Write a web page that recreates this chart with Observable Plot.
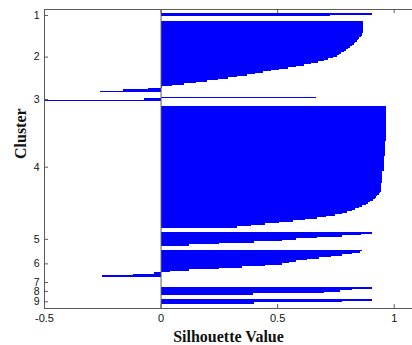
<!DOCTYPE html>
<html><head><meta charset="utf-8">
<script src="https://cdn.jsdelivr.net/npm/d3@7"></script>
<script src="https://cdn.jsdelivr.net/npm/@observablehq/plot@0.6"></script>
<style>body{margin:0;background:#fff;overflow:hidden}</style>
</head><body><div id="chart"></div>
<script>
// Cluster labels (y tick labels)
const clusterLabels = ["1", "2", "3", "4", "5", "6", "7", "8", "9"];
// Silhouette values per cluster, sorted as drawn (top to bottom)
const cluster1 = [0.905, 0.725];
const cluster2 = [0.87, 0.87, 0.87, 0.87, 0.87, 0.87, 0.87, 0.868, 0.865, 0.862, 0.858, 0.853,
  0.848, 0.842, 0.835, 0.828, 0.82, 0.812, 0.803, 0.795, 0.785, 0.775, 0.765, 0.755, 0.74, 0.72,
  0.70, 0.675, 0.645, 0.615, 0.58, 0.545, 0.51, 0.475, 0.44, 0.405, 0.37, 0.33, 0.29, 0.245, 0.20,
  0.15, 0.10, 0.05, 0.005, -0.055, -0.16, -0.26];
const cluster3 = [0.665, -0.07, -0.5];
const cluster4 = [0.965, 0.965, 0.965, 0.965, 0.965, 0.965, 0.965, 0.965, 0.965, 0.965, 0.965, 0.965,
  0.965, 0.965, 0.965, 0.965, 0.965, 0.965, 0.965, 0.965, 0.965, 0.965, 0.965, 0.965,
  0.962, 0.962, 0.962, 0.962, 0.962, 0.962, 0.962, 0.962, 0.962, 0.962,
  0.958, 0.958, 0.958, 0.958, 0.958, 0.958, 0.958, 0.958, 0.958, 0.958,
  0.952, 0.952, 0.952, 0.952, 0.952, 0.952, 0.952, 0.952,
  0.945, 0.945, 0.945, 0.945, 0.945, 0.945,
  0.94, 0.935, 0.93, 0.925, 0.92, 0.91, 0.90, 0.89, 0.88, 0.865, 0.85, 0.835, 0.82, 0.80, 0.78,
  0.75, 0.71, 0.67, 0.62, 0.57, 0.51, 0.45, 0.39, 0.33];
const cluster5 = [0.905, 0.86, 0.78, 0.67, 0.58, 0.52, 0.40, 0.25, 0.12];
const cluster6 = [0.865, 0.855, 0.82, 0.78, 0.73, 0.68, 0.63, 0.58, 0.55, 0.52, 0.45, 0.35, 0.25,
  0.12, 0.04, -0.03, -0.12, -0.25];
const cluster7 = [0.0];
const cluster8 = [0.905, 0.82, 0.77, 0.70, 0.395];
const cluster9 = [0.905, 0.78, 0.40];
// X axis ticks
const xTicks = [-0.5, 0, 0.5, 1];
const xTickLabels = ["-0.5", "0", "0.5", "1"];
const xTitle = "Silhouette Value";
const yTitle = "Cluster";

const clusters = [cluster1, cluster2, cluster3, cluster4, cluster5, cluster6, cluster7, cluster8, cluster9];
const PAD = 3, GAP = 3;
let r = PAD;
const rows = [];
const centers = [];
clusters.forEach((vals, ci) => {
  const start = r;
  vals.forEach(v => { rows.push({row: r, v}); r++; });
  centers.push({pos: (start + r) / 2, label: clusterLabels[ci]});
  r += (ci < clusters.length - 1) ? GAP : PAD;
});
const total = r;

const W = 412, H = 345, L = 44, T = 9, B = 308, R = 417;
const pxPerRow = (B - T) / total;
const tickRows = 4 / pxPerRow;
const tickXv = 4 / ((R - L) / 1.6);
const axisColor = "#5a5a5a";
const sans = "Liberation Sans, Arial, sans-serif";
const serif = "Liberation Serif, Times New Roman, serif";

const plot = Plot.plot({
  width: W, height: H,
  marginLeft: L, marginTop: T, marginBottom: H - B, marginRight: 0,
  style: {background: "#fff"},
  x: {domain: [-0.5, 1.1], range: [L, R], axis: null},
  y: {domain: [0, total], range: [T, B], axis: null},
  marks: [
    Plot.rect(rows, {x1: () => 0, x2: "v", y1: "row", y2: d => d.row + 1, fill: "#0000ff",
      shapeRendering: "crispEdges"}),
    Plot.ruleX([0], {x: d => d, stroke: axisColor, strokeWidth: 1}),
    Plot.frame({stroke: axisColor}),
    Plot.ruleX(xTicks, {x: d => d, y1: () => total, y2: () => total - tickRows, stroke: axisColor}),
    Plot.ruleX(xTicks, {x: d => d, y1: () => 0, y2: () => tickRows, stroke: axisColor}),
    Plot.ruleY(centers, {y: "pos", x1: () => -0.5, x2: () => -0.5 + tickXv, stroke: axisColor}),
    Plot.text(xTicks, {x: d => d, y: () => total, dy: 10, text: (d, i) => xTickLabels[i],
      fontFamily: sans, fontSize: 11, fill: "#111", lineAnchor: "middle"}),
    Plot.text(centers, {x: () => -0.5, y: "pos", dx: -5, text: "label", textAnchor: "end",
      fontFamily: sans, fontSize: 10.5, fill: "#111"}),
    Plot.text([xTitle], {frameAnchor: "bottom", dy: 28, text: d => d, fontFamily: serif,
      fontSize: 16, fontWeight: "bold", fill: "#111", lineAnchor: "middle"}),
    Plot.text([yTitle], {frameAnchor: "left", dx: -24, rotate: -90, text: d => d, fontFamily: serif,
      fontSize: 16, fontWeight: "bold", fill: "#111", lineAnchor: "middle"})
  ]
});
document.getElementById("chart").appendChild(plot);
</script>
</body></html>
